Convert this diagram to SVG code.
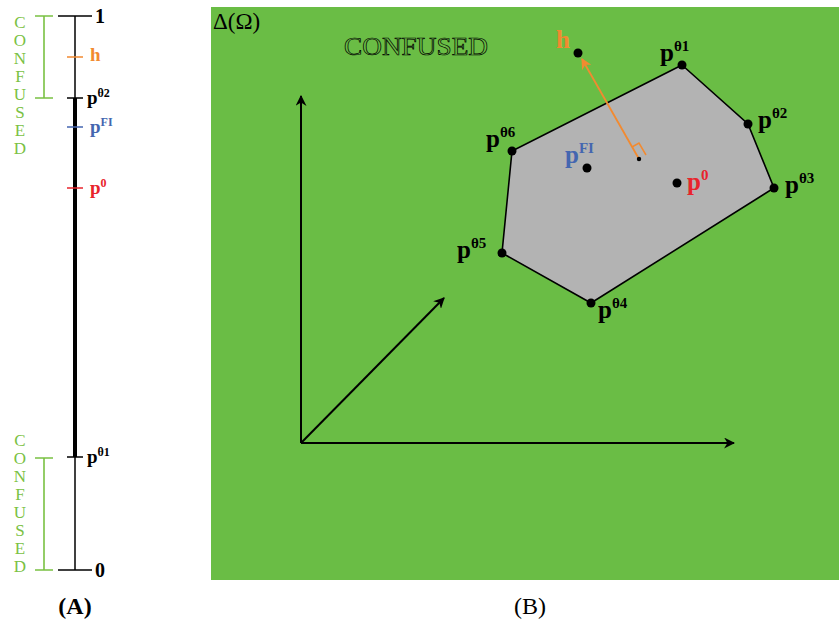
<svg xmlns="http://www.w3.org/2000/svg" width="839" height="625" viewBox="0 0 839 625">
<defs>
<style>
.t{font-family:"Liberation Serif","DejaVu Serif",serif;font-weight:bold}
.lbl{font-size:25px}
.sup{font-size:15px}
.small{font-size:19px}
.sups{font-size:12px}
.conf{font-family:"Liberation Serif",serif;font-size:17px;fill:#7ac143;text-anchor:middle}
.ax{stroke:#000;stroke-width:2;fill:none}
.gr{stroke:#7ac143;stroke-width:1.6;fill:none}
</style>
<marker id="ah" viewBox="0 0 10 10" refX="9" refY="5" markerWidth="11" markerHeight="11" orient="auto" markerUnits="userSpaceOnUse">
<path d="M0,0 L10,5 L0,10 L3,5 Z" fill="#000"/>
</marker>
<marker id="aho" viewBox="0 0 10 10" refX="9" refY="5" markerWidth="11" markerHeight="11" orient="auto" markerUnits="userSpaceOnUse">
<path d="M0,0 L10,5 L0,10 L3,5 Z" fill="#f28a30"/>
</marker>
</defs>
<rect width="839" height="625" fill="#fff"/>

<g id="panelA">
<line x1="75" y1="16" x2="75" y2="570" stroke="#000" stroke-width="1.5"/>
<line x1="75" y1="98" x2="75" y2="457" stroke="#000" stroke-width="4"/>
<line x1="58" y1="16" x2="92" y2="16" stroke="#000" stroke-width="1.5"/>
<line x1="58" y1="570" x2="92" y2="570" stroke="#000" stroke-width="1.5"/>
<line x1="67" y1="57" x2="83" y2="57" stroke="#f28a30" stroke-width="1.5"/>
<line x1="67" y1="98" x2="83" y2="98" stroke="#000" stroke-width="1.5"/>
<line x1="67" y1="127" x2="83" y2="127" stroke="#4466b0" stroke-width="1.5"/>
<line x1="67" y1="188" x2="83" y2="188" stroke="#e8242c" stroke-width="1.5"/>
<line x1="67" y1="457" x2="83" y2="457" stroke="#000" stroke-width="1.5"/>
<text class="t" x="95" y="23" font-size="20">1</text>
<text class="t" x="95" y="577" font-size="20">0</text>
<text class="t small" x="90" y="61" fill="#f28a30">h</text>
<text class="t small" x="87" y="104">p<tspan class="sups" dy="-7">θ2</tspan></text>
<text class="t small" x="90" y="133" fill="#4466b0">p<tspan class="sups" dy="-7">FI</tspan></text>
<text class="t small" x="90" y="194" fill="#e8242c">p<tspan class="sups" dy="-7">0</tspan></text>
<text class="t small" x="87" y="463">p<tspan class="sups" dy="-7">θ1</tspan></text>
<path class="gr" d="M35,16 H53 M44,16 V98 M35,98 H53"/>
<path class="gr" d="M35,458 H53 M44,458 V570 M35,570 H53"/>
<g class="conf">
<text x="20" y="28">C</text><text x="20" y="46">O</text><text x="20" y="64">N</text><text x="20" y="82">F</text><text x="20" y="100">U</text><text x="20" y="118">S</text><text x="20" y="136">E</text><text x="20" y="154">D</text>
<text x="20" y="446">C</text><text x="20" y="464">O</text><text x="20" y="482">N</text><text x="20" y="500">F</text><text x="20" y="518">U</text><text x="20" y="536">S</text><text x="20" y="554">E</text><text x="20" y="572">D</text>
</g>
<text class="t" x="75" y="614" font-size="24" text-anchor="middle">(A)</text>
</g>

<g id="panelB">
<rect x="211" y="7" width="628" height="573" fill="#6abd45"/>
<text x="213" y="29" font-family="Liberation Serif,serif" font-size="23">Δ(Ω)</text>
<text x="344" y="55" font-family="Liberation Serif,serif" font-size="26" fill="#6abd45" stroke="#000" stroke-width="0.7" textLength="144" lengthAdjust="spacingAndGlyphs">CONFUSED</text>
</g>

<g id="connectors">
<line class="ax" x1="301" y1="443" x2="301" y2="96" marker-end="url(#ah)"/>
<line class="ax" x1="301" y1="443" x2="734" y2="443" marker-end="url(#ah)"/>
<line class="ax" x1="301" y1="443" x2="444" y2="298" marker-end="url(#ah)"/>
</g>

<g id="simplex">
<polygon points="682,65 748,124 774,188 591,303 502,253 512,151" fill="#b3b3b3" stroke="#000" stroke-width="1.6"/>
</g>

<g id="projection">
<line x1="639" y1="159" x2="582" y2="59" stroke="#f28a30" stroke-width="1.8" marker-end="url(#aho)"/>
<polyline points="632,147 639,143 646,155" fill="none" stroke="#f28a30" stroke-width="1.5"/>
<circle cx="639" cy="159" r="2.2" fill="#000"/>
</g>

<g id="node-p1"><circle cx="682" cy="65" r="4.5"/><text class="t lbl" x="660" y="61">p<tspan class="sup" dy="-10">θ1</tspan></text></g>
<g id="node-p2"><circle cx="748" cy="124" r="4.5"/><text class="t lbl" x="758" y="128">p<tspan class="sup" dy="-10">θ2</tspan></text></g>
<g id="node-p3"><circle cx="774" cy="188" r="4.5"/><text class="t lbl" x="785" y="193">p<tspan class="sup" dy="-10">θ3</tspan></text></g>
<g id="node-p4"><circle cx="591" cy="303" r="4.5"/><text class="t lbl" x="598" y="318">p<tspan class="sup" dy="-10">θ4</tspan></text></g>
<g id="node-p5"><circle cx="502" cy="253" r="4.5"/><text class="t lbl" x="457" y="258">p<tspan class="sup" dy="-10">θ5</tspan></text></g>
<g id="node-p6"><circle cx="512" cy="151" r="4.5"/><text class="t lbl" x="486" y="147">p<tspan class="sup" dy="-10">θ6</tspan></text></g>
<g id="node-pFI"><circle cx="587" cy="168" r="4.5"/><text class="t lbl" x="565" y="163" fill="#4466b0">p<tspan class="sup" dy="-10">FI</tspan></text></g>
<g id="node-p0"><circle cx="677" cy="183" r="4.5"/><text class="t lbl" x="687" y="190" fill="#e8242c">p<tspan class="sup" dy="-10">0</tspan></text></g>
<g id="node-h"><circle cx="578" cy="53" r="4.5"/><text class="t lbl" x="556" y="48" fill="#f28a30">h</text></g>

<text x="530" y="614" font-family="Liberation Serif,serif" font-size="24" text-anchor="middle">(B)</text>
</svg>
